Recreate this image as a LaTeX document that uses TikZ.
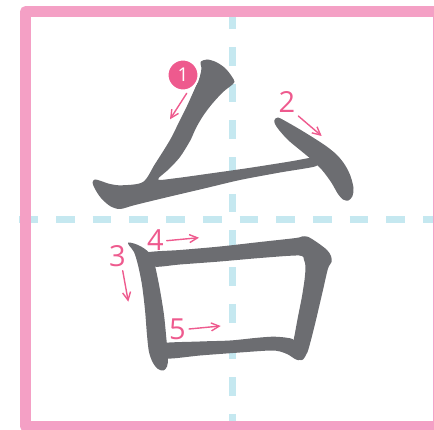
\documentclass[tikz,border=0pt]{standalone}
\usepackage{fontspec}
\usetikzlibrary{arrows.meta}
\newfontfamily\numfont{Open Sans}
\definecolor{framepink}{HTML}{F4A0C5}
\definecolor{guideblue}{HTML}{C5E8F0}
\definecolor{inkgray}{HTML}{6C6D71}
\definecolor{orderpink}{HTML}{EE5A8E}

\begin{document}
\begin{tikzpicture}[x=1pt, y=-1pt, >={Straight Barb[length=8pt,width=8pt]}, line join=round, line cap=round,
	guide/.style={guideblue, line width=7pt, line cap=butt, dash pattern=on 18.7pt off 18pt},
	inkstroke/.style={fill=inkgray},
	ordernum/.style={text=orderpink, inner sep=0pt, font=\numfont\fontsize{29}{29}\selectfont},
	orderarrow/.style={->, orderpink, line width=1.4pt}]
	\useasboundingbox (0,0) rectangle (434,430);
	% khung và đường kẻ
	\draw[guide] (232.7,10.3) -- (232.7,440);
	\draw[guide] (19.3,219.3) -- (440,219.3);
	\draw[framepink, line width=11pt, line cap=butt] (25.5,11.6) rectangle (438.8,426.2);
	% nét 1: ム
	\fill[inkstroke] plot[smooth cycle, tension=0.5] coordinates {
		(200.5,62) (207,59.5) (216,62) (225,68) (231.5,76) (234.5,82) (230,86.5) (223,92)
		(212,104) (203,116) (196,128) (190,141) (180,157) (169,169) (158,179.5)
		(175,178.3) (210,173.5) (250,167.8) (290,161.5) (315,157.3) (319,161.5) (315,166.5)
		(280,172.5) (240,180) (205,188.3) (168,197) (135,205) (120,209) (110,206) (101,198)
		(95,189) (92.5,182.5) (95,179.5) (101,181) (110,184) (122,185.3) (143,182)
		(155,164) (170,140) (180,120) (187,106) (196,86) (200,76) (201.5,68)};
	% nét 2
	\fill[inkstroke] plot[smooth cycle, tension=0.5] coordinates {
		(274.5,120) (278,117.5) (287,122) (300,129.5) (313,137.5) (326,146) (337,155) (345,165)
		(350.5,176) (353.5,188) (352.5,196) (348.5,200.5) (343,199.5) (338,194) (331,182)
		(322,170) (312,160) (300,150) (288,140) (279,130) (275,124)};
	% nét 3
	\fill[inkstroke] plot[smooth cycle, tension=0.5] coordinates {
		(128,242.5) (134,243.5) (141,246.5) (148,251.5) (153,258.5) (156,270) (160,290)
		(164,315) (166.5,340) (168,358) (167,366.5) (163.5,370.5) (158,369) (153,363)
		(149,352) (147,335) (145,310) (142,285) (138,265) (134,252) (129.5,246)};
	% nét 4
	\fill[inkstroke] plot[smooth cycle, tension=0.5] coordinates {
		(147,252.5) (180,250) (220,246.5) (260,242) (296,238) (302,236.5) (308,236.8)
		(318,243) (327,250) (331,256) (331.5,262) (328,268.5) (323,290) (319.5,305)
		(315.5,322) (311.5,338) (307.5,352) (303,359.5) (299,359.5) (295,354) (293.5,342)
		(295,333) (298.3,315) (301.7,298) (304.5,280) (305.5,267) (304,260) (299,255.5)
		(260,258) (220,261.5) (180,264.5) (155,266.7) (150,260)};
	% nét 5
	\fill[inkstroke] plot[smooth cycle, tension=0.5] coordinates {
		(160,343.5) (200,341.5) (230,340.5) (255,338) (272,336.7) (285,337.5) (294,340)
		(297,350) (300,359.5) (296,359.5) (288,354.5) (280,351.5) (270,350.5) (240,352.5)
		(200,355.5) (168,358.5) (161,352)};
	% số thứ tự nét
	\node[circle, fill=orderpink, draw=white, line width=2pt, minimum size=31pt, inner sep=0pt,
		text=white, font=\numfont\fontsize{19}{19}\selectfont] (n1) at (183,75) {1};
	\node[ordernum] (n2) at (287,102) {2};
	\node[ordernum] (n3) at (117.5,256.5) {3};
	\node[ordernum] (n4) at (155.5,240) {4};
	\node[ordernum] (n5) at (177.5,329) {5};
	\coordinate (a1) at (186.7,93.3); \coordinate (b1) at (170,119.3);
	\coordinate (a2) at (298.3,116);  \coordinate (b2) at (321.7,136);
	\coordinate (a3) at (122.7,270.7); \coordinate (b3) at (128.3,301.7);
	\coordinate (a4) at (166.7,240.7); \coordinate (b4) at (199,237.7);
	\coordinate (a5) at (189,329);    \coordinate (b5) at (220.7,326);
	\foreach \i in {1,...,5}
		\draw[orderarrow] (a\i) -- (b\i);
\end{tikzpicture}
\end{document}
